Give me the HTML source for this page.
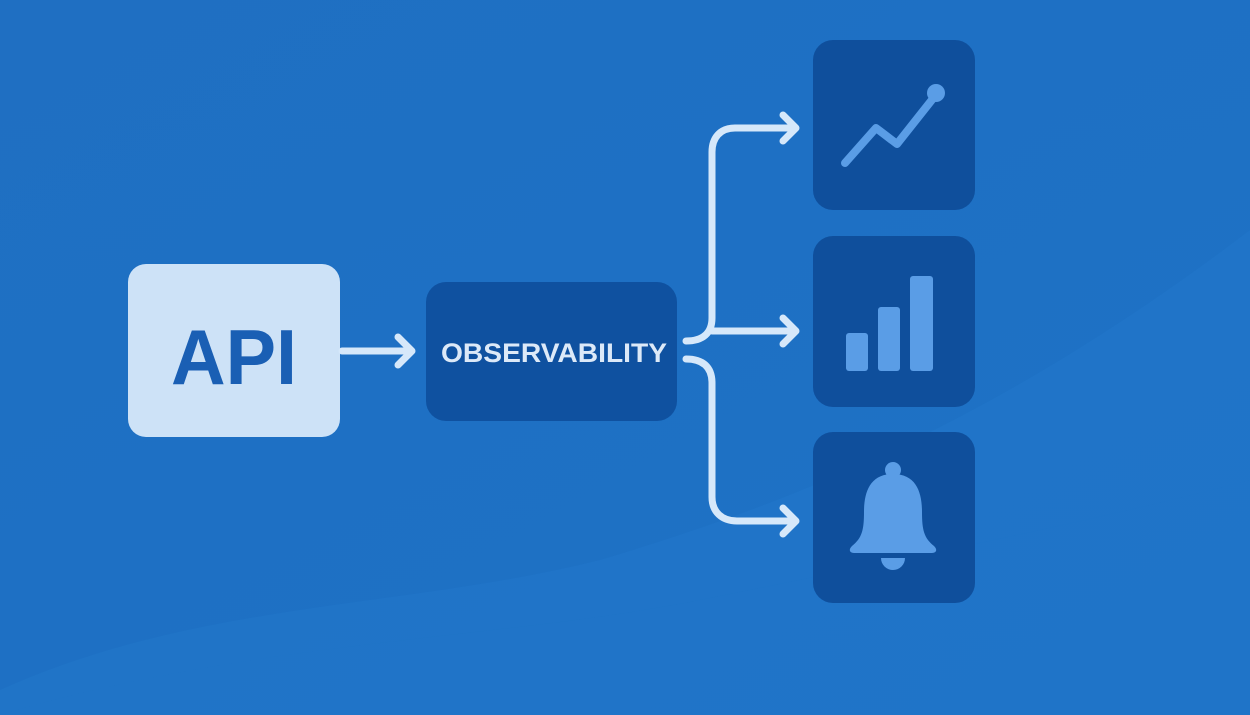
<!DOCTYPE html>
<html><head><meta charset="utf-8"><style>
html,body{margin:0;padding:0;width:1250px;height:715px;overflow:hidden;background:#1e70c3;}
svg{display:block}
</style></head><body>
<svg width="1250" height="715" viewBox="0 0 1250 715" xmlns="http://www.w3.org/2000/svg">
<defs>
<linearGradient id="bg" x1="0" y1="0" x2="1" y2="1">
<stop offset="0" stop-color="#1f6fc2"/><stop offset="1" stop-color="#1d72c6"/>
</linearGradient>
</defs>
<rect width="1250" height="715" fill="url(#bg)"/>
<path d="M0 690 C200 600 400 610 600 560 C800 500 1000 420 1250 230 L1250 715 L0 715 Z" fill="#2176c9" opacity="0.6"/>
<path d="M0 715 C250 640 500 640 700 600 C900 560 1100 520 1250 480 L1250 715 Z" fill="#1f74c8" opacity="0.5"/>

<rect x="128" y="264" width="212" height="173" rx="18" fill="#cde2f7"/>
<text x="171" y="384" textLength="126" lengthAdjust="spacingAndGlyphs" font-family="Liberation Sans, sans-serif" font-weight="bold" font-size="78" fill="#1a5fb4">API</text>

<rect x="426" y="282" width="251" height="139" rx="20" fill="#0f51a0"/>
<text x="441" y="362" textLength="226" lengthAdjust="spacingAndGlyphs" font-family="Liberation Sans, sans-serif" font-weight="bold" font-size="27" fill="#dce9f8">OBSERVABILITY</text>

<g fill="none" stroke="#d6e8fa" stroke-width="7" stroke-linecap="round" stroke-linejoin="round">
<path d="M342 351 H410"/>
<path d="M398 337 L412 351 L398 365"/>
<path d="M686 341 C703 341 712 333 712 318 V152 C712 138 720 128 735 128 H795"/>
<path d="M783 115 L796 128 L783 141"/>
<path d="M712 331 H795"/>
<path d="M783 318 L796 331 L783 344"/>
<path d="M686 359 C703 359 712 367 712 383 V497 C712 512 722 521 737 521 H795"/>
<path d="M783 508 L796 521 L783 534"/>
</g>

<rect x="813" y="40" width="162" height="170" rx="20" fill="#0f4f9c"/>
<rect x="813" y="236" width="162" height="171" rx="20" fill="#0f4f9c"/>
<rect x="813" y="432" width="162" height="171" rx="20" fill="#0f4f9c"/>

<g stroke="#5a9de6" stroke-width="8" fill="none" stroke-linecap="round" stroke-linejoin="round">
<path d="M845 163 L876 128 L897 144 L935 96"/>
</g>
<circle cx="936" cy="93" r="9" fill="#5a9de6"/>

<g fill="#5a9de6">
<rect x="846" y="333" width="22" height="38" rx="3"/>
<rect x="878" y="307" width="22" height="64" rx="3"/>
<rect x="910" y="276" width="23" height="95" rx="3"/>
<circle cx="893" cy="470" r="8"/>
<path d="M893 474 C870 474 864 492 864 512 C864 530 862 538 852 546 C848 550 850 553 854 553 H932 C936 553 938 550 934 546 C924 538 922 530 922 512 C922 492 916 474 893 474 Z"/>
<path d="M881 558 H905 A12 12 0 0 1 881 558 Z"/>
</g>
</svg>
</body></html>
